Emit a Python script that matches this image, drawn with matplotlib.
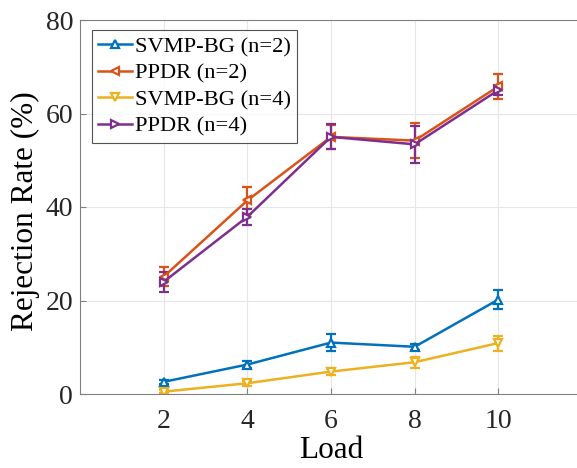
import matplotlib
matplotlib.use("Agg")
import matplotlib.pyplot as plt
from matplotlib.lines import Line2D

plt.rcParams['font.family'] = ['Liberation Serif', 'DejaVu Serif']
plt.rcParams['mathtext.fontset'] = 'stix'

loads = [2, 4, 6, 8, 10]
svmp_n2 = [2.6, 6.3, 11.0, 10.1, 20.2]
svmp_n2_err = [0.5, 0.7, 1.9, 0.6, 2.1]
ppdr_n2 = [25.1, 41.4, 55.0, 54.2, 65.8]
ppdr_n2_err = [2.0, 2.9, 2.6, 3.7, 2.7]
svmp_n4 = [0.5, 2.3, 4.8, 6.8, 10.9]
svmp_n4_err = [0.3, 0.5, 0.8, 1.2, 1.6]
ppdr_n4 = [24.0, 37.9, 55.0, 53.4, 65.0]
ppdr_n4_err = [2.2, 1.7, 2.7, 4.0, 1.0]

labels = ['SVMP-BG (n=2)', 'PPDR (n=2)', 'SVMP-BG (n=4)', 'PPDR (n=4)']
colors = ['#0072BD', '#D95319', '#EDB120', '#7E2F8E']
markers = ['^', '<', 'v', '>']
series = [(svmp_n2, svmp_n2_err), (ppdr_n2, ppdr_n2_err),
          (svmp_n4, svmp_n4_err), (ppdr_n4, ppdr_n4_err)]

fig = plt.figure(figsize=(5.77, 4.68), dpi=100)
ax = fig.add_axes([80/577, 1-394/468, (582-80)/577, (394-20)/468])

handles = []
for (vals, errs), lab, c, m in zip(series, labels, colors, markers):
    ax.errorbar(loads, vals, yerr=errs, color=c, marker=m, markersize=5.5,
                markerfacecolor='white', markeredgewidth=1.6, linewidth=1.8,
                elinewidth=1.6, capsize=3.5, capthick=1.6)
    handles.append(Line2D([], [], color=c, marker=m, markersize=5.5,
                          markerfacecolor='white', markeredgewidth=1.6,
                          linewidth=1.8, label=lab))

ax.set_xlim(0, 12)
ax.set_ylim(0, 80)
ax.set_xticks(loads)
ax.set_yticks([0, 20, 40, 60, 80])
ax.grid(True, color='#e6e6e6', linewidth=0.8)
ax.set_axisbelow(True)
for s in ax.spines.values():
    s.set_color('#808080')
    s.set_linewidth(0.8)
ax.tick_params(direction='in', colors='#808080', labelcolor='#262626',
               labelsize=20, length=4, top=False, right=False)
ax.tick_params(axis='x', pad=11)
ax.tick_params(axis='y', pad=5)
ax.set_xlabel('Load', fontsize=22.5, color='#000000')
ax.set_ylabel('Rejection Rate (%)', fontsize=22.5, color='#000000')
ax.yaxis.set_label_coords(-40/502, 0.49)
ax.xaxis.set_label_coords(0.5, -42/374)

leg = ax.legend(handles=handles, loc='upper left',
                bbox_to_anchor=(12/502, 1-10/374), fontsize=16.2,
                frameon=True, fancybox=False, edgecolor='#262626',
                handlelength=1.5, handletextpad=0.12, borderpad=0.28,
                labelspacing=0.26, borderaxespad=0.0)
leg.get_frame().set_linewidth(0.8)

fig.savefig('out.png', dpi=100)
